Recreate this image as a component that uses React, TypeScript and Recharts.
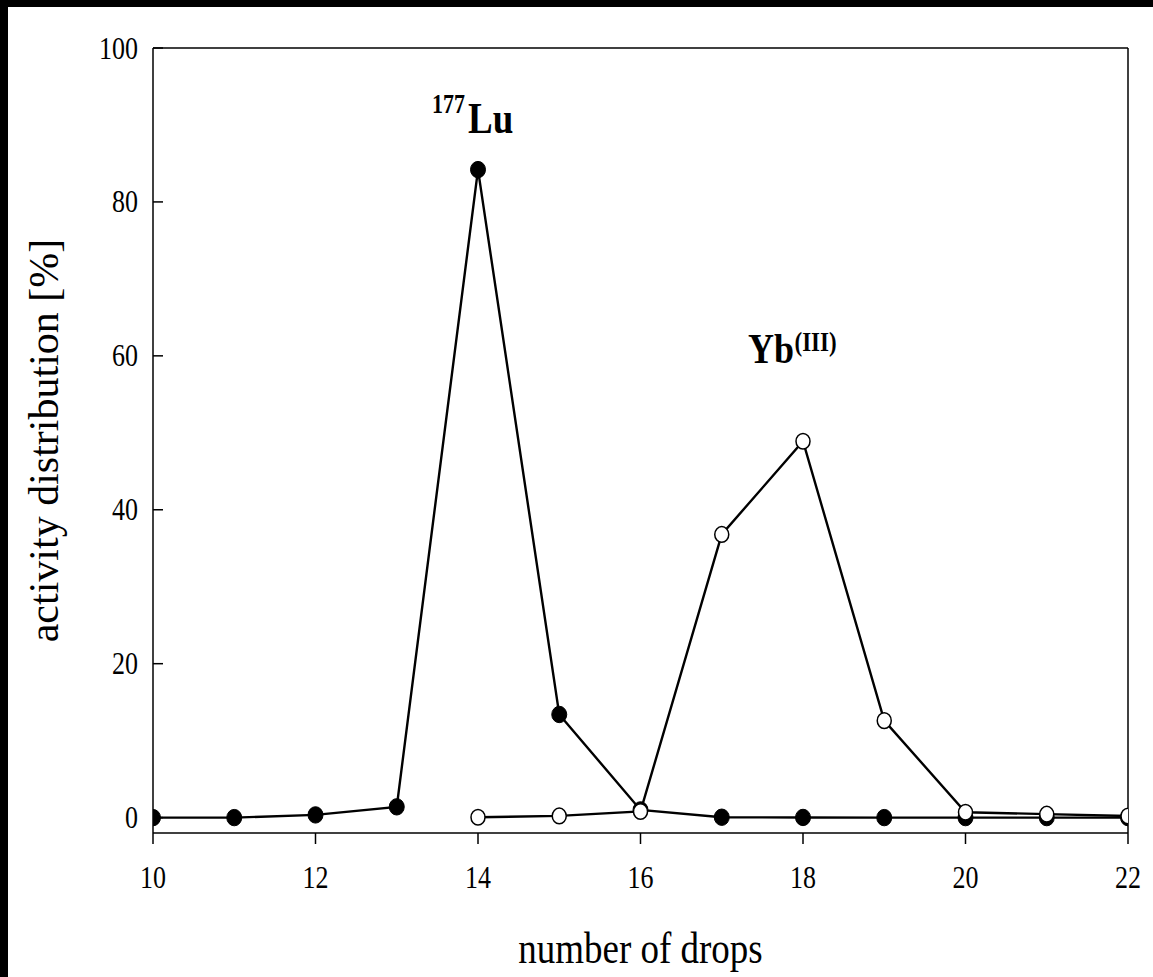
import React from "react";
import {
  LineChart,
  Line,
  XAxis,
  YAxis,
  ReferenceLine,
  ReferenceDot,
  Label,
} from "recharts";

const FONT = "'Liberation Serif', 'Times New Roman', serif";

// number of drops (x) and activity distribution [%] per series
const drops = [10, 11, 12, 13, 14, 15, 16, 17, 18, 19, 20, 21, 22];
const lu177 = [0, 0, 0.35, 1.4, 84.2, 13.4, 1.0, 0.05, 0.02, 0, 0, 0, 0];
const ybIII = [null, null, null, null, 0.05, 0.22, 0.8, 36.8, 48.9, 12.6, 0.7, 0.45, 0.2];

const xTicks = [10, 12, 14, 16, 18, 20, 22];
const yTicks = [0, 20, 40, 60, 80, 100];

const data = drops.map((d, i) => ({ drop: d, lu: lu177[i], yb: ybIII[i] }));

// text in the original is drawn a bit taller than wide
const SY = 1.2;

const YTick = ({ x, y, payload }: any) => (
  <g>
    <line x1={x} x2={x + 10} y1={y} y2={y} stroke="#000" strokeWidth={1.5} />
    <text
      transform={`translate(${x - 15},${y + 10.5}) scale(1,${SY})`}
      textAnchor="end"
      fontSize={26}
      fontFamily={FONT}
      fill="#000"
    >
      {payload.value}
    </text>
  </g>
);

const XTick = ({ x, y, payload }: any) => (
  <text
    transform={`translate(${x},${y + 44}) scale(1,${SY})`}
    textAnchor="middle"
    fontSize={26}
    fontFamily={FONT}
    fill="#000"
  >
    {payload.value}
  </text>
);

const FilledDot = ({ cx, cy }: any) =>
  cx == null || cy == null ? null : (
    <ellipse cx={cx} cy={cy} rx={7.5} ry={8.2} fill="#000" stroke="#000" strokeWidth={1} />
  );

const OpenDot = ({ cx, cy }: any) =>
  cx == null || cy == null ? null : (
    <ellipse cx={cx} cy={cy} rx={7} ry={7.8} fill="#fff" stroke="#000" strokeWidth={1.5} />
  );

const LuLabel = ({ cx, cy }: any) => (
  <text transform={`translate(${cx},${cy}) scale(1,${SY})`} fontFamily={FONT} fontWeight="bold" fill="#000">
    <tspan x={-46} y={-16.7} fontSize={22}>177</tspan>
    <tspan x={-10} y={0} fontSize={37}>Lu</tspan>
  </text>
);

const YbLabel = ({ cx, cy }: any) => (
  <text transform={`translate(${cx},${cy}) scale(1,${SY})`} fontFamily={FONT} fontWeight="bold" fill="#000">
    <tspan x={-55} y={0} fontSize={36}>Yb</tspan>
    <tspan x={-8.5} y={-9.5} fontSize={23}>(III)</tspan>
  </text>
);

export default function App() {
  return (
    <div style={{ position: "absolute", left: 0, top: 0, width: 1153, height: 977, background: "#000" }}>
      <div style={{ position: "absolute", left: 8, top: 7, width: 1145, height: 970, background: "#fff" }}>
        <LineChart
          width={1145}
          height={970}
          data={data}
          margin={{ top: 41, right: 25, left: 0, bottom: 0 }}
        >
          <XAxis
            dataKey="drop"
            type="number"
            domain={[10, 22]}
            ticks={xTicks}
            allowDataOverflow
            height={144}
            tickSize={11}
            tickMargin={0}
            tick={<XTick />}
            stroke="#000"
            strokeWidth={1.5}
          >
            <Label
              content={({ viewBox }: any) => (
                <text
                  x={viewBox.x + viewBox.width / 2}
                  y={viewBox.y + 130}
                  textAnchor="middle"
                  fontSize={37}
                  fontFamily={FONT}
                  fill="#000"
                  transform={`translate(0,${-(viewBox.y + 130) * (SY - 1)}) scale(1,${SY})`}
                >
                  number of drops
                </text>
              )}
            />
          </XAxis>
          <YAxis
            type="number"
            domain={[-2, 100]}
            ticks={yTicks}
            allowDataOverflow
            width={145}
            tickSize={0}
            tickMargin={0}
            tickLine={false}
            tick={<YTick />}
            stroke="#000"
            strokeWidth={1.5}
          >
            <Label
              content={({ viewBox }: any) => {
                const cy = viewBox.y + viewBox.height / 2;
                return (
                  <text
                    transform={`translate(50,${cy}) rotate(-90)`}
                    textAnchor="middle"
                    fontSize={42}
                    fontFamily={FONT}
                    fill="#000"
                  >
                    activity distribution [%]
                  </text>
                );
              }}
            />
          </YAxis>
          <ReferenceLine y={100} stroke="#000" strokeWidth={1.5} />
          <ReferenceLine x={22} stroke="#000" strokeWidth={1.5} />
          <Line
            dataKey="lu"
            stroke="#000"
            strokeWidth={2.4}
            dot={<FilledDot />}
            activeDot={false}
            isAnimationActive={false}
          />
          <Line
            dataKey="yb"
            stroke="#000"
            strokeWidth={2.4}
            dot={<OpenDot />}
            activeDot={false}
            isAnimationActive={false}
          />
          <ReferenceDot x={14} y={89} r={0} ifOverflow="visible" shape={<LuLabel />} />
          <ReferenceDot x={18} y={59.1} r={0} ifOverflow="visible" shape={<YbLabel />} />
        </LineChart>
      </div>
    </div>
  );
}
